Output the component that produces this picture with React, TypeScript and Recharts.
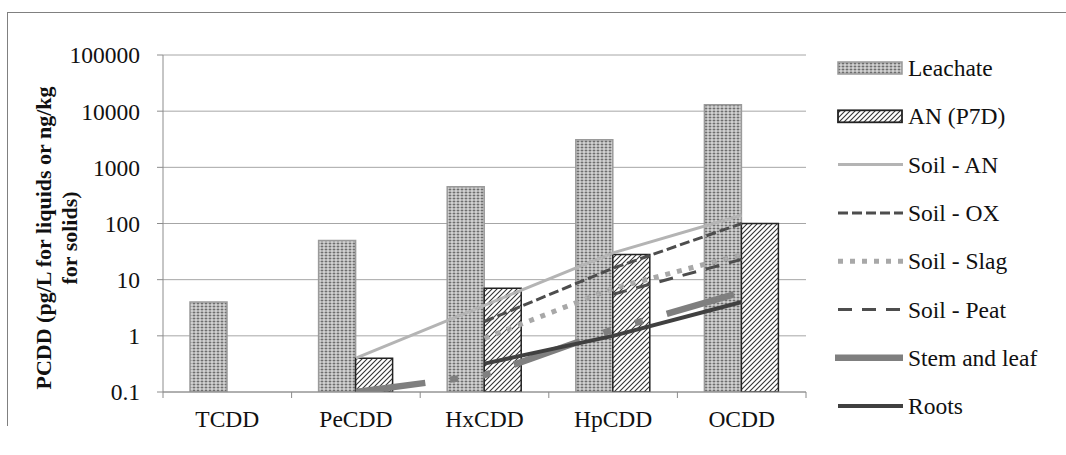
import React from 'react';
import { ComposedChart, Bar, Line, XAxis, YAxis, CartesianGrid, Legend, Label } from 'recharts';

const categories = ['TCDD', 'PeCDD', 'HxCDD', 'HpCDD', 'OCDD'];
const leachate = [4, 50, 450, 3100, 13000];
const anP7D = [null, 0.4, 7, 28, 100];
const soilAN = [null, 0.4, 3.5, 30, 140];
const soilOX = [null, null, 1.8, 16, 100];
const soilSlag = [null, null, 0.9, 7, 28];
const soilPeat = [null, null, null, 5.5, 23];
const stemLeaf = [null, 0.1, 0.2, 1.3, 6];
const roots = [null, null, 0.32, 1, 4];
const yTicks = [0.1, 1, 10, 100, 1000, 10000, 100000];

const data = categories.map((name, i) => ({
  name,
  leachate: leachate[i],
  an: anP7D[i],
  soilAN: soilAN[i],
  soilOX: soilOX[i],
  soilSlag: soilSlag[i],
  soilPeat: soilPeat[i],
  stemLeaf: stemLeaf[i],
  roots: roots[i],
}));

const FONT = '"Liberation Serif", "Times New Roman", serif';
const TEXT = '#111';
const BAND = 643 / categories.length;

const lineSeries = [
  { key: 'soilAN', name: 'Soil - AN', stroke: '#b4b4b4', width: 3 },
  { key: 'soilOX', name: 'Soil - OX', stroke: '#4d4d4d', width: 3, dash: '10 4' },
  { key: 'soilSlag', name: 'Soil - Slag', stroke: '#a8a8a8', width: 5, dash: '5 7' },
  { key: 'soilPeat', name: 'Soil - Peat', stroke: '#4d4d4d', width: 3, dash: '14 10' },
  { key: 'stemLeaf', name: 'Stem and leaf', stroke: '#7f7f7f', width: 6.5, dash: '70 25 8 25 8 25' },
  { key: 'roots', name: 'Roots', stroke: '#404040', width: 4 },
];

const XTick = (props: any) => {
  const { x, y, payload, index } = props;
  const axisY = y - 18;
  return (
    <g>
      <line x1={x - BAND / 2} x2={x - BAND / 2} y1={axisY} y2={axisY + 6} stroke="#8c8c8c" />
      {index === categories.length - 1 && (
        <line x1={x + BAND / 2} x2={x + BAND / 2} y1={axisY} y2={axisY + 6} stroke="#8c8c8c" />
      )}
      <text x={x} y={y} dy="0.71em" textAnchor="middle" fill={TEXT} fontFamily={FONT} fontSize={23.5}>
        {payload.value}
      </text>
    </g>
  );
};

const YTitle = () => (
  <g fontFamily={FONT} fontSize={22} fontWeight="bold" fill={TEXT}>
    <text x={35} y={230} textAnchor="middle" dominantBaseline="central" transform="rotate(-90, 35, 230)">
      PCDD (pg/L for liquids or ng/kg
    </text>
    <text x={61} y={230} textAnchor="middle" dominantBaseline="central" transform="rotate(-90, 61, 230)">
      for solids)
    </text>
  </g>
);

const renderLegend = () => {
  const rowY = (i: number) => 60 + i * 48.3;
  return (
    <svg width={230} height={420} style={{ display: 'block' }}>
      <rect x={5} y={rowY(0) - 6} width={64} height={12} fill="url(#leachPat)" stroke="#999" strokeWidth={1.5} />
      <text x={75} y={rowY(0)} dominantBaseline="central" fontFamily={FONT} fontSize={23.5} fill={TEXT}>Leachate</text>
      <rect x={5} y={rowY(1) - 6} width={64} height={12} fill="url(#anPat)" stroke="#222" strokeWidth={1.8} />
      <text x={75} y={rowY(1)} dominantBaseline="central" fontFamily={FONT} fontSize={23.5} fill={TEXT}>AN (P7D)</text>
      {lineSeries.map((s, i) => (
        <g key={s.key}>
          <line
            x1={s.key === 'stemLeaf' ? 2 : 5}
            x2={70}
            y1={rowY(i + 2)}
            y2={rowY(i + 2)}
            stroke={s.stroke}
            strokeWidth={s.width}
            strokeDasharray={s.key === 'stemLeaf' ? undefined : s.dash}
          />
          <text x={75} y={rowY(i + 2)} dominantBaseline="central" fontFamily={FONT} fontSize={23.5} fill={TEXT}>
            {s.name}
          </text>
        </g>
      ))}
    </svg>
  );
};

export default function App() {
  return (
    <div style={{ position: 'absolute', left: 0, top: 0, width: 1066, height: 455, overflow: 'hidden', background: '#fff' }}>
      <div
        style={{
          position: 'absolute',
          left: 7,
          top: 12,
          width: 1070,
          height: 413,
          borderLeft: '1px solid #808080',
          borderTop: '1px solid #808080',
        }}
      />
      <div style={{ position: 'absolute', left: 8, top: 8 }}>
        <ComposedChart
          width={1050}
          height={440}
          data={data}
          margin={{ top: 47, right: 252, bottom: 16, left: 0 }}
          barCategoryGap="21%"
          barGap={0}
        >
          <defs>
            <pattern id="leachPat" width={4} height={3} patternUnits="userSpaceOnUse">
              <rect width={4} height={3} fill="#f0f0f0" />
              <rect x={0.5} y={0.5} width={3} height={2} fill="#6e6e6e" />
            </pattern>
            <pattern id="anPat" width={5} height={5} patternUnits="userSpaceOnUse">
              <rect width={5} height={5} fill="#ffffff" />
              <path d="M-1,6 L6,-1 M-1,1 L1,-1 M4,6 L6,4" stroke="#333" strokeWidth={1.1} />
            </pattern>
          </defs>
          <CartesianGrid vertical={false} stroke="#a6a6a6" />
          <XAxis
            dataKey="name"
            height={40}
            stroke="#8c8c8c"
            tickLine={false}
            tickSize={0}
            tickMargin={18}
            tick={<XTick />}
            interval={0}
          />
          <YAxis
            width={155}
            scale="log"
            domain={[0.1, 100000]}
            ticks={yTicks}
            allowDataOverflow
            stroke="#8c8c8c"
            tickSize={6}
            tickMargin={17}
            tick={{ fill: TEXT, fontFamily: FONT, fontSize: 23.5 }}
            tickFormatter={(v: number) => String(v)}
          >
            <Label content={<YTitle />} />
          </YAxis>
          <Bar dataKey="leachate" name="Leachate" fill="url(#leachPat)" stroke="#9a9a9a" strokeWidth={1.5} isAnimationActive={false} />
          <Bar dataKey="an" name="AN (P7D)" fill="url(#anPat)" stroke="#222" strokeWidth={1.5} isAnimationActive={false} />
          {lineSeries.map((s) => (
            <Line
              key={s.key}
              dataKey={s.key}
              name={s.name}
              type="linear"
              stroke={s.stroke}
              strokeWidth={s.width}
              strokeDasharray={s.dash}
              dot={false}
              activeDot={false}
              isAnimationActive={false}
            />
          ))}
          <Legend
            layout="vertical"
            align="center"
            verticalAlign="middle"
            content={renderLegend}
            wrapperStyle={{ left: 825, top: 0, width: 230, height: 420 }}
          />
        </ComposedChart>
      </div>
    </div>
  );
}
